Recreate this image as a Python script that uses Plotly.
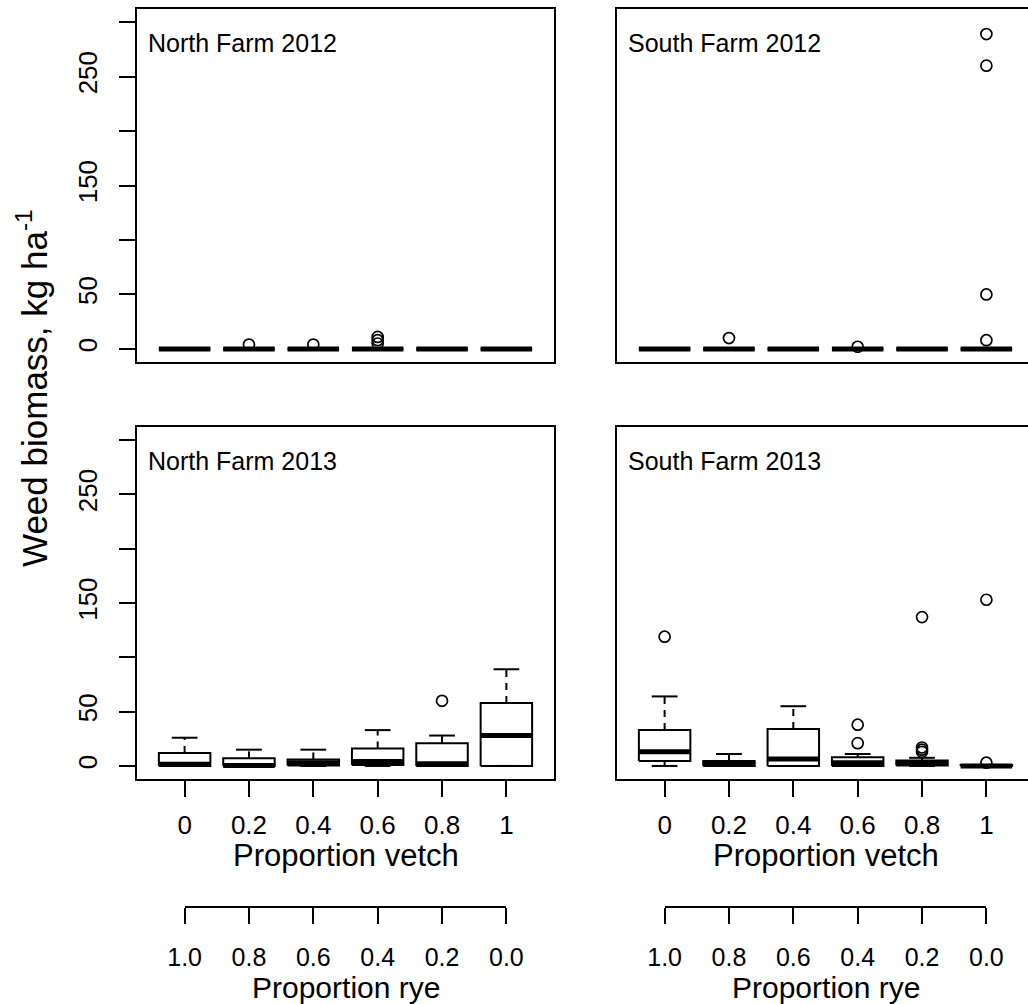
import plotly.graph_objects as go

W, H = 1028, 1004

# ---------------- data ----------------
vetch_labels = ["0", "0.2", "0.4", "0.6", "0.8", "1"]
rye_labels = ["1.0", "0.8", "0.6", "0.4", "0.2", "0.0"]
y_label_vals = [0, 50, 150, 250]
y_label_text = ["0", "50", "150", "250"]
y_minor_vals = [100, 200, 300]
panel_titles = ["North Farm 2012", "South Farm 2012", "North Farm 2013", "South Farm 2013"]

# North Farm 2012
nf12_low = [0, 0, 0, 0, 0, 0]
nf12_q1 = [0, 0, 0, 0, 0, 0]
nf12_med = [0, 0, 0, 0, 0, 0]
nf12_q3 = [0, 0, 0, 0, 0, 0]
nf12_high = [0, 0, 0, 0, 0, 0]
nf12_out = [[], [4], [4], [11, 8, 5], [], []]

# South Farm 2012
sf12_low = [0, 0, 0, 0, 0, 0]
sf12_q1 = [0, 0, 0, 0, 0, 0]
sf12_med = [0, 0, 0, 0, 0, 0]
sf12_q3 = [0, 0, 0, 0, 0, 0]
sf12_high = [0, 0, 0, 0, 0, 0]
sf12_out = [[], [10], [], [2], [], [289, 260, 50, 8]]

# North Farm 2013
nf13_low = [0, 0, 0, 0, 0, 0]
nf13_q1 = [0, 0, 0.5, 1, 0, 0]
nf13_med = [1.5, 0.5, 3, 4, 2, 28]
nf13_q3 = [12, 7, 6, 16, 21, 58]
nf13_high = [26, 15, 15, 33, 28, 89]
nf13_out = [[], [], [], [], [60], []]

# South Farm 2013
sf13_low = [0, 0, 0, 0, 0, 0]
sf13_q1 = [4.5, 0, 0, 0, 0.5, 0]
sf13_med = [13, 2, 6.5, 3, 2.5, 0]
sf13_q3 = [33, 4.5, 34, 8, 5, 1]
sf13_high = [64, 11, 55, 11, 7.5, 1]
sf13_out = [[119], [], [], [38, 21], [137, 17, 15, 13], [153, 3]]

panels = [
    (nf12_low, nf12_q1, nf12_med, nf12_q3, nf12_high, nf12_out),
    (sf12_low, sf12_q1, sf12_med, sf12_q3, sf12_high, sf12_out),
    (nf13_low, nf13_q1, nf13_med, nf13_q3, nf13_high, nf13_out),
    (sf13_low, sf13_q1, sf13_med, sf13_q3, sf13_high, sf13_out),
]

# ---------------- layout geometry (pixels) ----------------
FONT = "Liberation Sans, Arial, sans-serif"
L0, L1 = 137, 554
R0, R1 = 617, 1034
T0, T1 = 9, 362
B0, B1 = 427, 779
RYE_Y = 907
XR = [0.26, 6.74]
YR = [-12, 312]


def fx(p):
    return p / W


def fy(p):
    return 1 - p / H


fig = go.Figure()

ax_names = [("x", "y"), ("x2", "y2"), ("x3", "y3"), ("x4", "y4")]
BOXW = 0.4
CAPW = 0.2
LW = 2.0

for (xa, ya), (low, q1, med, q3, high, outl) in zip(ax_names, panels):
    pos = list(range(1, len(q1) + 1))
    wx, wy, cx, cy, bx, by, mx, my, ox, oy = [], [], [], [], [], [], [], [], [], []
    for i, p in enumerate(pos):
        wx += [p, p, None, p, p, None]
        wy += [q3[i], high[i], None, low[i], q1[i], None]
        cx += [p - CAPW, p + CAPW, None, p - CAPW, p + CAPW, None]
        cy += [high[i], high[i], None, low[i], low[i], None]
        bx += [p - BOXW, p + BOXW, p + BOXW, p - BOXW, p - BOXW, None]
        by += [q1[i], q1[i], q3[i], q3[i], q1[i], None]
        mx += [p - BOXW, p + BOXW, None]
        my += [med[i], med[i], None]
        for v in outl[i]:
            ox.append(p)
            oy.append(v)
    common = dict(xaxis=xa, yaxis=ya, showlegend=False, hoverinfo="skip")
    fig.add_trace(go.Scatter(x=wx, y=wy, mode="lines",
                             line=dict(color="black", width=LW, dash="7px,6px"), **common))
    fig.add_trace(go.Scatter(x=cx, y=cy, mode="lines",
                             line=dict(color="black", width=LW), **common))
    fig.add_trace(go.Scatter(x=bx, y=by, mode="lines",
                             line=dict(color="black", width=LW), **common))
    fig.add_trace(go.Scatter(x=mx, y=my, mode="lines",
                             line=dict(color="black", width=5), **common))
    fig.add_trace(go.Scatter(x=ox, y=oy, mode="markers",
                             marker=dict(symbol="circle-open", size=11, color="black",
                                         line=dict(width=1.7)), **common))

# right panels are clipped at the page edge
r_range_end = XR[0] + (XR[1] - XR[0]) * (W - R0) / (R1 - R0)


def xpix(panel_left, v):
    return panel_left + (v - XR[0]) / (XR[1] - XR[0]) * (L1 - L0)


base_x = dict(showline=True, linecolor="black", linewidth=1.6, mirror=True,
              showgrid=False, zeroline=False, fixedrange=True, automargin=False)
base_y = dict(showline=True, linecolor="black", linewidth=1.6,
              showgrid=False, zeroline=False, range=YR, fixedrange=True,
              automargin=False)

tickfont = dict(family=FONT, size=26, color="black")
ryefont = dict(family=FONT, size=25, color="black")

ylab = dict(ticks="outside", ticklen=16, tickwidth=1.6, tickcolor="black",
            tickvals=y_label_vals, ticktext=y_label_text, tickangle=-90,
            tickfont=tickfont, ticklabelstandoff=12, mirror=True,
            minor=dict(tickvals=y_minor_vals, ticks="outside", ticklen=16,
                       tickwidth=1.6, tickcolor="black", showgrid=False))
ynolab = dict(ticks="", showticklabels=False, mirror=False)

xlab = dict(ticks="outside", ticklen=16, tickwidth=1.6, tickcolor="black",
            tickvals=list(range(1, 7)), ticktext=vetch_labels, tickfont=tickfont,
            ticklabelstandoff=6)
xnolab = dict(ticks="", showticklabels=False)

fig.update_layout(
    template="none",
    width=W, height=H,
    margin=dict(l=0, r=0, t=0, b=0, autoexpand=False),
    paper_bgcolor="white", plot_bgcolor="rgba(0,0,0,0)",
    xaxis=dict(domain=[fx(L0), fx(L1)], range=XR, anchor="y", **base_x, **xnolab),
    yaxis=dict(domain=[fy(T1), fy(T0)], anchor="x", **base_y, **ylab),
    xaxis2=dict(domain=[fx(R0), 1.0], range=[XR[0], r_range_end], anchor="y2", **base_x, **xnolab),
    yaxis2=dict(domain=[fy(T1), fy(T0)], anchor="x2", **base_y, **ynolab),
    xaxis3=dict(domain=[fx(L0), fx(L1)], range=XR, anchor="y3", **base_x, **xlab),
    yaxis3=dict(domain=[fy(B1), fy(B0)], anchor="x3", **base_y, **ylab),
    xaxis4=dict(domain=[fx(R0), 1.0], range=[XR[0], r_range_end], anchor="y4", **base_x, **xlab),
    yaxis4=dict(domain=[fy(B1), fy(B0)], anchor="x4", **base_y, **ynolab),
)

# secondary "Proportion rye" axes spanning first to last box
rye_pos = list(range(1, len(rye_labels) + 1))
for k, (axname, left, yref) in enumerate([("xaxis5", L0, "y3"), ("xaxis6", R0, "y4")]):
    d0 = fx(xpix(left, rye_pos[0]))
    d1 = fx(xpix(left, rye_pos[-1]))
    fig.update_layout(**{axname: dict(
        domain=[d0, d1], range=[rye_pos[0], rye_pos[-1]], anchor="free",
        position=fy(RYE_Y), side="bottom", showline=True, linecolor="black",
        linewidth=1.6, ticks="outside", ticklen=16, tickwidth=1.6, tickcolor="black",
        tickvals=rye_pos, ticktext=rye_labels, tickfont=ryefont, ticklabelstandoff=12,
        showgrid=False, zeroline=False, fixedrange=True, automargin=False)})
    fig.add_trace(go.Scatter(x=rye_pos, y=[None] * len(rye_pos), mode="markers",
                             xaxis="x" + axname[-1], yaxis=yref, showlegend=False,
                             hoverinfo="skip", marker=dict(opacity=0)))

ann = []
# panel titles
for title, left, top in zip(panel_titles, [L0, R0, L0, R0], [T0, T0, B0, B0]):
    ann.append(dict(text=title, x=fx(left + 9), y=fy(top + 34), xref="paper", yref="paper",
                    xanchor="left", yanchor="middle", showarrow=False,
                    font=dict(family=FONT, size=25, color="black")))
# axis titles
for cxp in [(L0 + L1) / 2, (R0 + R1) / 2]:
    ann.append(dict(text="Proportion vetch", x=fx(cxp), y=fy(855), xref="paper", yref="paper",
                    xanchor="center", yanchor="middle", showarrow=False,
                    font=dict(family=FONT, size=31, color="black")))
    ann.append(dict(text="Proportion rye", x=fx(cxp), y=fy(987), xref="paper", yref="paper",
                    xanchor="center", yanchor="middle", showarrow=False,
                    font=dict(family=FONT, size=30, color="black")))
ann.append(dict(text="Weed biomass, kg ha<sup>-1</sup>", x=fx(32), y=fy(388),
                xref="paper", yref="paper", xanchor="center", yanchor="middle",
                textangle=-90, showarrow=False,
                font=dict(family=FONT, size=35, color="black")))
fig.update_layout(annotations=ann)

fig.write_html("out.html")
